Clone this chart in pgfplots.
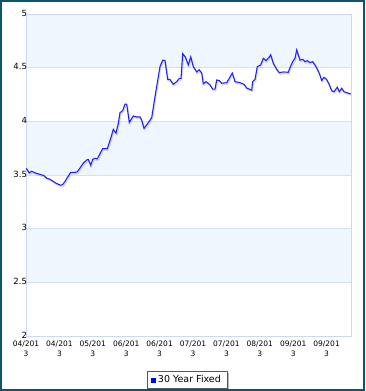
\documentclass[border=0pt]{standalone}
\usepackage{fontspec}
\setmainfont{DejaVu Sans}
\usepackage{pgfplots}
\pgfplotsset{compat=1.18}
\usepackage{pgfplotstable}
\definecolor{framecol}{RGB}{14,84,112}
\definecolor{axiscol}{RGB}{206,216,242}
\definecolor{gridcol}{RGB}{214,224,242}
\definecolor{bandcol}{RGB}{239,246,254}
\definecolor{linecol}{RGB}{34,34,245}
\pgfplotstableread{
x y
0 3.565
3.3 3.52
5.7 3.535
9 3.52
14 3.505
18 3.495
20.7 3.47
24 3.46
27.3 3.44
30.7 3.42
34.7 3.405
36.7 3.41
39 3.44
42.3 3.49
44.7 3.525
49 3.525
51.3 3.53
54 3.565
57.3 3.61
60.7 3.64
62.3 3.645
64.7 3.59
66.7 3.645
69 3.655
71.3 3.65
74 3.70
76.7 3.745
81.3 3.745
84.7 3.84
87.3 3.925
90 3.89
92.3 3.98
94 4.08
96.7 4.10
99 4.16
100.7 4.16
103.3 3.99
107.3 4.05
110.7 4.04
114 4.04
115.7 4.01
118 3.935
120.7 3.966
125.7 4.034
129 4.23
134 4.51
136.7 4.57
139 4.565
141.7 4.39
144 4.39
147.3 4.345
150.7 4.37
153.3 4.40
155 4.40
156.7 4.63
159.3 4.60
162.3 4.525
164.7 4.60
167.3 4.51
170.7 4.46
173.3 4.48
175.7 4.45
177.3 4.35
180 4.37
184 4.34
186.7 4.30
189 4.30
190.7 4.385
193.3 4.38
195.7 4.355
200.7 4.36
203.3 4.40
206.3 4.45
209 4.37
214 4.36
218 4.345
220.7 4.31
223.3 4.30
225.7 4.29
226.7 4.37
229 4.39
231.3 4.51
234.7 4.525
237.3 4.587
240 4.565
243.3 4.60
244.7 4.62
247.3 4.54
250.7 4.485
253.3 4.453
257.3 4.46
262.3 4.457
264 4.50
266.7 4.556
269 4.587
270.7 4.665
272.3 4.618
274 4.57
276.7 4.578
279 4.556
281.3 4.565
284 4.547
286.7 4.556
290 4.51
293.3 4.447
295.7 4.38
298 4.41
300.7 4.39
303.3 4.34
305.7 4.285
308 4.276
311.3 4.317
313.3 4.276
315.7 4.308
318 4.276
320.7 4.267
324.7 4.255
}\rates
\begin{document}
\begin{tikzpicture}
\begin{axis}[
  set layers=standard,
  at={(26pt,55pt)}, anchor=south west,
  scale only axis, width=325pt, height=322pt,
  xmin=0, xmax=325, ymin=2, ymax=5,
  axis line style={draw=axiscol, line width=0.8pt},
  ytick={2,2.5,...,5},
  ymajorgrids, grid style={draw=gridcol, line width=0.8pt},
  xtick={0,33.4,66.8,100.2,133.6,167,200.4,233.8,267.2,300.6},
  xticklabels={{04/201\\3},{04/201\\3},{05/201\\3},{06/201\\3},{06/201\\3},{07/201\\3},{07/201\\3},{08/201\\3},{09/201\\3},{09/201\\3}},
  major tick length=0pt,
  /pgf/number format/assume math mode=true,
  xticklabel style={align=center, font=\fontsize{7.5}{10}\selectfont, yshift=-1.5pt},
  yticklabel style={font=\fontsize{8.5}{10}\selectfont, xshift=4.5pt, yshift=1pt},
  legend style={name=leg, at={(0.495,-0.108)}, anchor=north, draw=gray!70!black, fill=white,
    font=\fontsize{9.5}{11}\selectfont, inner xsep=4pt, inner ysep=2.5pt},
  legend image code/.code={\fill[blue] (1pt,-2.5pt) rectangle (5pt,1.5pt);},
]
\begin{pgfonlayer}{axis background}
\fill[bandcol] (axis cs:0,4.5) rectangle (axis cs:325,5);
\fill[bandcol] (axis cs:0,3.5) rectangle (axis cs:325,4);
\fill[bandcol] (axis cs:0,2.5) rectangle (axis cs:325,3);
\end{pgfonlayer}
\addplot[black!25, line width=1.3pt, opacity=0.6, shift={(0.8pt,-1.5pt)}, forget plot] table[x=x,y=y] {\rates};
\addplot[linecol, line width=1.1pt] table[x=x,y=y] {\rates};
\addlegendentry{30 Year Fixed}
\end{axis}
\fill[gray!60] ([yshift=-2pt]leg.north east) rectangle ([shift={(2pt,-2pt)}]leg.south east);
\fill[gray!60] ([xshift=2pt]leg.south west) rectangle ([shift={(2pt,-2pt)}]leg.south east);
\pgfresetboundingbox
\useasboundingbox (0pt,0pt) rectangle (365pt,391pt);
\draw[framecol, line width=2.2pt] (1.1pt,1.1pt) rectangle (363.9pt,389.9pt);
\end{tikzpicture}
\end{document}
